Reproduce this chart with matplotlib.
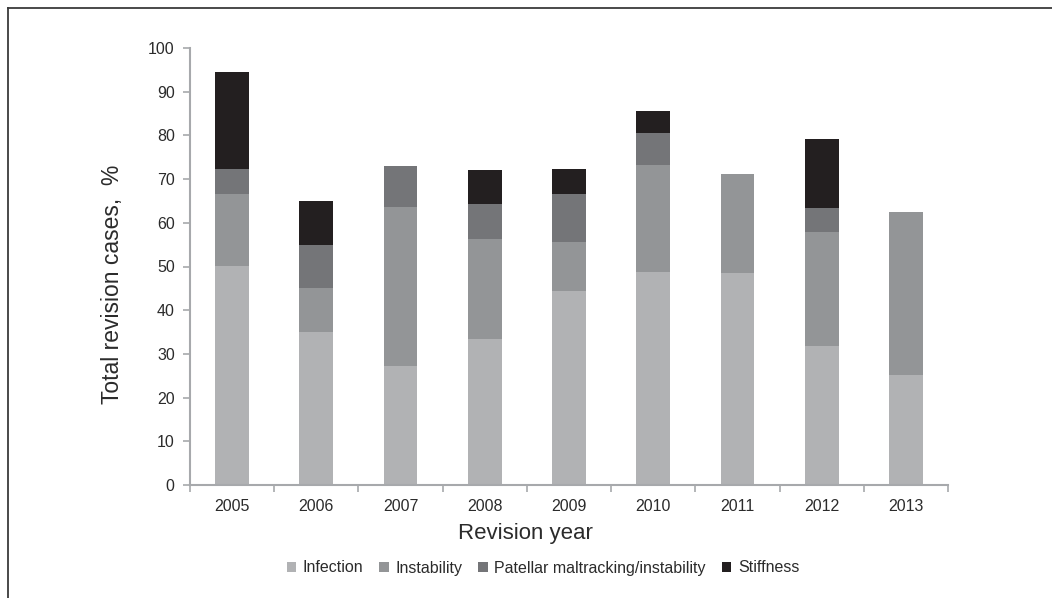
import matplotlib
matplotlib.use("Agg")
import matplotlib.pyplot as plt
import numpy as np
from matplotlib.lines import Line2D
from matplotlib.patches import Patch

years = ["2005", "2006", "2007", "2008", "2009", "2010", "2011", "2012", "2013"]
infection = [50.2, 35.0, 27.3, 33.5, 44.5, 48.7, 48.4, 31.7, 25.2]
instability = [16.4, 10.1, 36.4, 22.9, 11.1, 24.5, 22.7, 26.3, 37.2]
patellar = [5.7, 9.9, 9.2, 7.8, 11.0, 7.4, 0.0, 5.3, 0.0]
stiffness = [22.1, 10.1, 0.0, 7.8, 5.7, 4.9, 0.0, 15.9, 0.0]
series_names = ["Infection", "Instability", "Patellar maltracking/instability", "Stiffness"]
colors = ["#b1b2b4", "#939597", "#747578", "#231f20"]

plt.rcParams['font.family'] = ['Liberation Sans', 'DejaVu Sans']

W, H = 1052, 598
fig = plt.figure(figsize=(W / 100, H / 100), dpi=100)
ax = fig.add_axes([190 / W, (H - 485) / H, (948 - 190) / W, (485 - 48) / H])

x = np.arange(len(years))
bottom = np.zeros(len(years))
for vals, c in zip([infection, instability, patellar, stiffness], colors):
    v = np.array(vals)
    ax.bar(x, v, width=0.40, bottom=bottom, color=c, edgecolor='none', zorder=2)
    bottom += v

ax.set_xlim(-0.5, len(years) - 0.5)
ax.set_ylim(0, 100)
ax.set_yticks(np.arange(0, 101, 10))
ax.set_xticks(x)
ax.set_xticklabels(years)
ax.set_xticks(np.arange(-0.5, len(years), 1.0), minor=True)

txt_col = "#2b2b2b"
axis_col = "#a7a9ac"
for s in ["top", "right"]:
    ax.spines[s].set_visible(False)
for s in ["left", "bottom"]:
    ax.spines[s].set_color(axis_col)
    ax.spines[s].set_linewidth(1.5)

ax.tick_params(axis='x', which='major', length=0, pad=10, labelsize=11.5, labelcolor=txt_col)
ax.tick_params(axis='x', which='minor', length=5, width=1.2, color=axis_col, direction='out')
ax.tick_params(axis='y', which='major', length=5, width=1.2, color=axis_col, labelsize=11.5,
               labelcolor=txt_col, pad=6)

ax.set_ylabel("Total revision cases,  %", fontsize=16.5, color=txt_col)
ax.yaxis.set_label_coords((113 - 190) / 758, (485 - 284) / 437)
ax.set_xlabel("Revision year", fontsize=16, color=txt_col)
ax.xaxis.set_label_coords((525 - 190) / 758, -(533 - 485) / 437)
ax.xaxis.label.set_verticalalignment('center')
ax.yaxis.label.set_verticalalignment('center')

handles = [Patch(facecolor=c, edgecolor='none') for c in colors]
fig.legend(handles, series_names, loc='center', bbox_to_anchor=(543 / W, (H - 568) / H),
           ncol=4, frameon=False, fontsize=11.5, handlelength=0.6, handleheight=0.6,
           handletextpad=0.4, columnspacing=1.0, labelcolor=txt_col)

# Outer frame lines (top and left)
fig.add_artist(Line2D([8 / W, 1.0], [1 - 8 / H, 1 - 8 / H], transform=fig.transFigure,
                      color="#3a3a3a", linewidth=1.3))
fig.add_artist(Line2D([8 / W, 8 / W], [0.0, 1 - 8 / H], transform=fig.transFigure,
                      color="#3a3a3a", linewidth=1.3))

fig.savefig("out.png", dpi=100, facecolor="white")
